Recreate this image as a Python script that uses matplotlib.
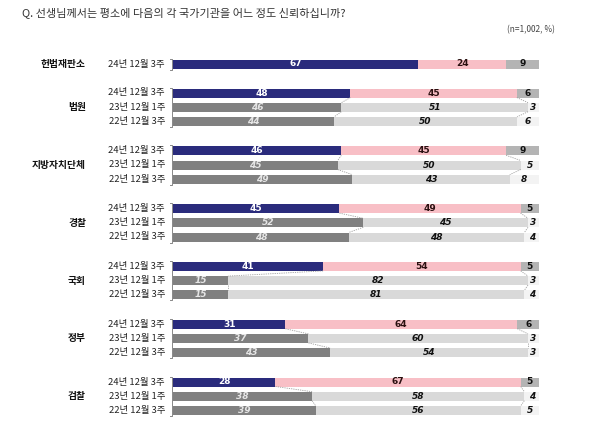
import matplotlib
matplotlib.use("Agg")
import matplotlib.pyplot as plt
import numpy as np

plt.rcParams['font.family'] = ['Noto Sans CJK KR', 'DejaVu Sans']

title = "Q. 선생님께서는 평소에 다음의 각 국가기관을 어느 정도 신뢰하십니까?"
note = "(n=1,002, %)"
institutions = ["헌법재판소", "법원", "지방자치단체", "경찰", "국회", "정부", "검찰"]
periods = ["24년 12월 3주", "23년 12월 1주", "22년 12월 3주"]

# each institution: list of rows (trust, distrust, don't know), ordered as periods
trust = [[67], [48, 46, 44], [46, 45, 49], [45, 52, 48], [41, 15, 15], [31, 37, 43], [28, 38, 39]]
distrust = [[24], [45, 51, 50], [45, 50, 43], [49, 45, 48], [54, 82, 81], [64, 60, 54], [67, 58, 56]]
dontknow = [[9], [6, 3, 6], [9, 5, 8], [5, 3, 4], [5, 3, 4], [6, 3, 3], [5, 4, 5]]

# layout
W, H = 600, 437
fig = plt.figure(figsize=(6.0, 4.37), dpi=100)
bx0, bx1 = 173, 539
ax = fig.add_axes([bx0 / W, 0, (bx1 - bx0) / W, 1])
ax.set_xlim(0, 100)
ax.set_ylim(H, 0)
ax.axis('off')

group_top = [64, 93, 150.8, 208.6, 266.4, 324.2, 382]
row_step = 14.2
bar_h = 9

cur_colors = ['#2a2b7c', '#f8bfc6', '#b4b4b4']
old_colors = ['#808080', '#d9d9d9', '#f3f3f3']
cur_txt = ['#ffffff', '#2a1010', '#111111']
old_txt = ['#e6e6e6', '#111111', '#111111']

fig.text(22 / W, 1 - 13 / H, title, fontsize=8, color='#333333', va='center', ha='left')
fig.text(555 / W, 1 - 30 / H, note, fontsize=6, color='#444444', va='center', ha='right')

for g, name in enumerate(institutions):
    n = len(trust[g])
    ys = [group_top[g] + i * row_step for i in range(n)]
    bounds_all = []
    for i in range(n):
        vals = np.array([trust[g][i], distrust[g][i], dontknow[g][i]], dtype=float)
        norm = vals / vals.sum() * 100
        left = np.concatenate([[0], np.cumsum(norm)[:-1]])
        cols = cur_colors if i == 0 else old_colors
        tcols = cur_txt if i == 0 else old_txt
        ax.barh(ys[i], norm, left=left, height=bar_h, color=cols, edgecolor='none')
        for k in range(3):
            ax.text(left[k] + norm[k] / 2, ys[i], f"{int(vals[k])}", ha='center', va='center',
                    fontsize=6.5, fontweight='bold', color=tcols[k], family='DejaVu Sans',
                    fontstyle='normal' if i == 0 else 'italic')
        bounds_all.append(np.cumsum(norm)[:2])
        fig.text(165 / W, 1 - ys[i] / H, periods[i], fontsize=6.8, color='#222222',
                 ha='right', va='center')
    # dashed connectors
    for i in range(n - 1):
        for k in range(2):
            ax.plot([bounds_all[i][k], bounds_all[i + 1][k]],
                    [ys[i] + bar_h / 2, ys[i + 1] - bar_h / 2],
                    ls=(0, (1.5, 1.2)), color='#a0a0a0', lw=0.6)
    # bracket
    top = ys[0] - bar_h / 2 - 1
    bot = ys[-1] + bar_h / 2 + 1
    ax.plot([-0.9, -0.4, -0.4, -0.9], [top, top, bot, bot], color='#888888', lw=0.7,
            clip_on=False)
    gy = (ys[0] + ys[-1]) / 2
    fig.text(86 / W, 1 - gy / H, name, fontsize=7, fontweight='bold',
             color='#111111', ha='right', va='center')

fig.savefig('out.png', dpi=100, facecolor='white')
